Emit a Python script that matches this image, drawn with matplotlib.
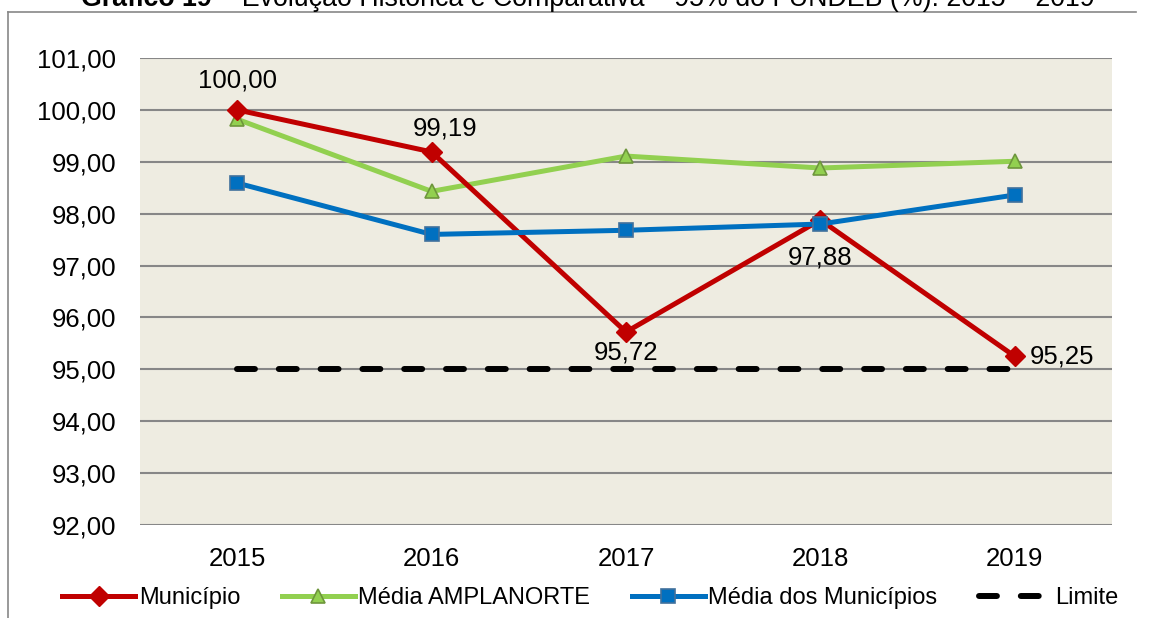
import numpy as np
import matplotlib.pyplot as plt
from matplotlib.lines import Line2D

plt.rcParams['font.family'] = ['Liberation Sans', 'DejaVu Sans']

# valores
anos = ['2015', '2016', '2017', '2018', '2019']
municipio = [100.00, 99.19, 95.72, 97.88, 95.25]
media_amplanorte = [99.82, 98.43, 99.11, 98.88, 99.01]
media_municipios = [98.59, 97.60, 97.68, 97.80, 98.36]
limite = [95.0, 95.0, 95.0, 95.0, 95.0]
y_ticks = [92, 93, 94, 95, 96, 97, 98, 99, 100, 101]

# posição dos rótulos (pontos): deslocamento e alinhamento
label_offsets = [(0, 21, 'center'), (10, 17, 'center'), (0, -15, 'center'),
                 (0, -27, 'center'), (11, 0, 'left')]

fig = plt.figure(figsize=(11.51, 6.18), dpi=100)
ax = fig.add_axes([140 / 1151, 1 - 525 / 618, (1112 - 140) / 1151, (525 - 58) / 618])
ax.set_facecolor('#EEECE1')

x = np.arange(len(anos))

ax.plot(x, media_amplanorte, color='#92D050', lw=3.6, marker='^', ms=10.5,
        mfc='#92D050', mec='#6E963C', mew=1.2, label='Média AMPLANORTE', zorder=3)
ax.plot(x, municipio, color='#C00000', lw=3.6, marker='D', ms=10.5,
        mfc='#C00000', mec='#C00000', label='Município', zorder=4)
ax.plot(x, media_municipios, color='#0070C0', lw=3.6, marker='s', ms=10,
        mfc='#0070C0', mec='#41719C', mew=1.2, label='Média dos Municípios', zorder=5)
ax.plot(x, limite, color='black', lw=4.3, dashes=(3, 4),
        dash_capstyle='round', label='Limite', zorder=6)

for xi, v, (dx, dy, ha) in zip(x, municipio, label_offsets):
    ax.annotate(f'{v:.2f}'.replace('.', ','), (xi, v), xytext=(dx, dy),
                textcoords='offset points', ha=ha, va='center', fontsize=18.5,
                zorder=7)

ax.set_xlim(-0.5, len(anos) - 0.5)
ax.set_ylim(92, 101)
ax.set_xticks(x)
ax.set_xticklabels(anos, fontsize=18.5)
ax.set_yticks(y_ticks)
ax.set_yticklabels([f'{t:.2f}'.replace('.', ',') for t in y_ticks], fontsize=18.5)
ax.tick_params(length=0)
ax.tick_params(axis='y', pad=17)
ax.tick_params(axis='x', pad=16)
ax.yaxis.grid(True, color='#878787', lw=1.5)
ax.set_axisbelow(True)
for s in ax.spines.values():
    s.set_visible(False)

# legenda na ordem do original
h = {l.get_label(): l for l in ax.get_lines()}
order = ['Município', 'Média AMPLANORTE', 'Média dos Municípios', 'Limite']
fig.legend([h[k] for k in order], order, loc='center', ncol=4,
           bbox_to_anchor=(0.513, 0.032), frameon=False, fontsize=17,
           handlelength=3.1, handletextpad=0.15, columnspacing=1.75,
           numpoints=1)

# moldura (topo e esquerda)
fig.add_artist(Line2D([8 / 1151, 8 / 1151], [1 - 12 / 618, 0], color='#878787', lw=1.2))
fig.add_artist(Line2D([8 / 1151, 1136 / 1151], [1 - 12 / 618, 1 - 12 / 618],
                      color='#878787', lw=1.2))

# título parcialmente cortado no topo, como no original
ty = 1 - 6 / 618
t1 = fig.text(0, ty, 'Gráfico 19', fontsize=19.3, weight='bold', va='baseline')
t2 = fig.text(0, ty, ' – Evolução Histórica e Comparativa – 95% do FUNDEB (%): 2015 – 2019',
              fontsize=19.3, va='baseline')
r = fig.canvas.get_renderer()
w1 = t1.get_window_extent(r).width / fig.bbox.width
w2 = t2.get_window_extent(r).width / fig.bbox.width
x0 = 588 / 1151 - (w1 + w2) / 2
t1.set_x(x0)
t2.set_x(x0 + w1)

fig.savefig('out.png', dpi=100)
